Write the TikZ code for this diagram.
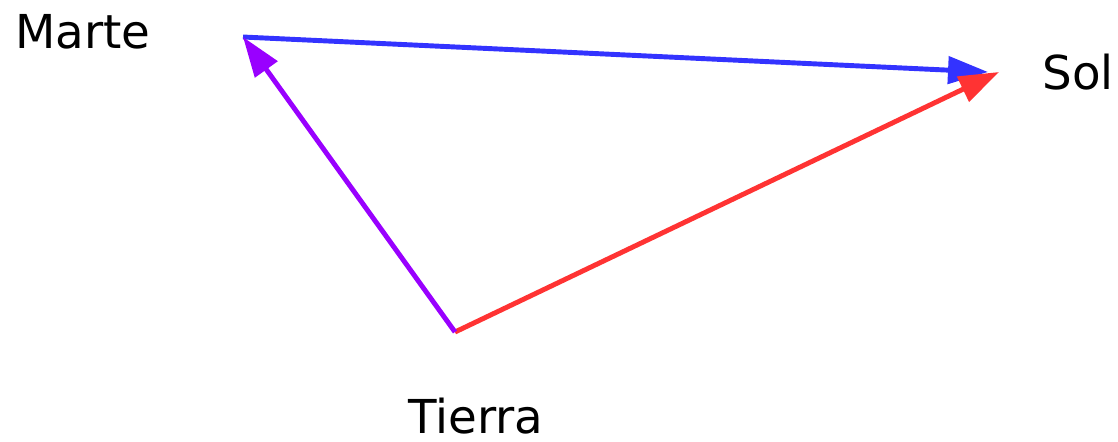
\documentclass[tikz,border=0pt]{standalone}
\usepackage{fontspec}
\setmainfont{DejaVu Sans}
\usetikzlibrary{arrows.meta}

\begin{document}
\begin{tikzpicture}[
  x=0.02cm, y=-0.02cm,
  vec/.style={-{Triangle[length=0.8cm, width=0.54cm]}, line width=2.8pt},
  body/.style={inner sep=0pt, anchor=base, font=\fontsize{26.6}{30}\selectfont}
]
\useasboundingbox (0,0) rectangle (1118,441);
\definecolor{martecol}{HTML}{3333FF}
\definecolor{tierracol}{HTML}{9900FF}
\definecolor{solcol}{HTML}{FF3333}

\coordinate (m) at (243,37);
\coordinate (s) at (999,72);
\coordinate (t) at (455,332);
\coordinate (sb) at (988,72);

\node[body] (marte) at (83,48) {Marte};
\node[body] (sol) at (1078,89) {Sol};
\node[body] (tierra) at (476,433) {Tierra};

\draw[vec, martecol] (m) -- (sb);
\draw[vec, solcol] (t) -- (s);
\draw[vec, tierracol] (t) -- (m);

\end{tikzpicture}
\end{document}
